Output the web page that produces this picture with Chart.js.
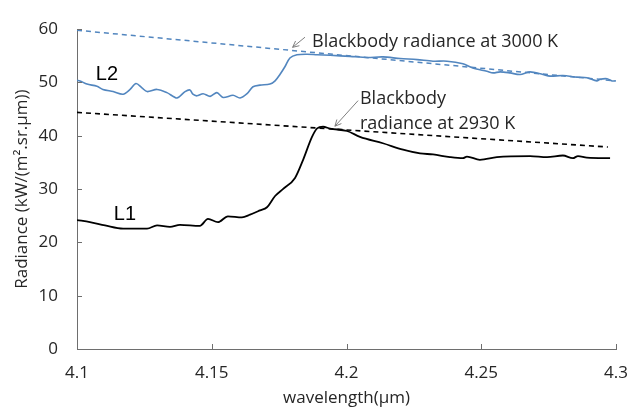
<!DOCTYPE html>
<html>
<head>
<meta charset="utf-8">
<script src="https://cdn.jsdelivr.net/npm/chart.js@4.4.1/dist/chart.umd.min.js"></script>
<style>
  html, body { margin: 0; padding: 0; background: #fff; }
  #wrap { width: 632px; height: 415px; position: relative; }
</style>
</head>
<body>
<div id="wrap"><canvas id="c" width="632" height="415"></canvas></div>
<script>
// ---- data ----
const wavelengthL1 = [4.1000, 4.1048, 4.1104, 4.1171, 4.1260, 4.1297, 4.1345, 4.1382, 4.1456, 4.1486,
  4.1523, 4.1560, 4.1612, 4.1642, 4.1679, 4.1705, 4.1735, 4.1764, 4.1809, 4.1839,
  4.1872, 4.1891, 4.1913, 4.1939, 4.2002, 4.2050, 4.2135, 4.2210, 4.2273, 4.2321,
  4.2384, 4.2432, 4.2447, 4.2495, 4.2558, 4.2681, 4.2744, 4.2803, 4.2840, 4.2859,
  4.2892, 4.2978];
const radianceL1 = [24.2, 23.8, 23.2, 22.6, 22.6, 23.2, 22.9, 23.3, 23.1, 24.4,
  23.8, 24.9, 24.7, 25.2, 26.0, 26.6, 28.7, 30.0, 32.1, 35.5,
  39.8, 41.4, 41.7, 41.35, 40.9, 39.8, 38.6, 37.4, 36.7, 36.5,
  36.0, 35.8, 36.1, 35.5, 36.0, 36.2, 36.0, 36.3, 35.8, 36.2,
  35.9, 35.8];

const wavelengthL2 = [4.1000, 4.1011, 4.1037, 4.1074, 4.1096, 4.1134, 4.1171, 4.1197, 4.1219, 4.1241,
  4.1260, 4.1297, 4.1334, 4.1371, 4.1401, 4.1419, 4.1430, 4.1445, 4.1468, 4.1494,
  4.1519, 4.1542, 4.1579, 4.1605, 4.1631, 4.1653, 4.1679, 4.1716, 4.1735, 4.1753,
  4.1772, 4.1790, 4.1816, 4.1853, 4.1891, 4.1939, 4.2013, 4.2076, 4.2135, 4.2199,
  4.2262, 4.2321, 4.2373, 4.2432, 4.2469, 4.2521, 4.2544, 4.2570, 4.2607, 4.2644,
  4.2681, 4.2729, 4.2755, 4.2803, 4.2855, 4.2892, 4.2929, 4.2941, 4.2967, 4.2985,
  4.2996];
const radianceL2 = [50.4, 50.3, 49.7, 49.3, 48.7, 48.3, 47.8, 48.7, 49.8, 49.0,
  48.3, 48.7, 48.1, 47.1, 48.3, 48.6, 47.8, 47.5, 47.9, 47.4,
  48.1, 47.2, 47.6, 47.1, 47.9, 49.2, 49.5, 49.7, 50.3, 51.5,
  53.0, 54.6, 55.2, 55.3, 55.2, 55.1, 54.9, 54.7, 54.8, 54.5,
  54.3, 54.0, 54.0, 53.5, 52.7, 52.1, 51.8, 52.0, 51.8, 51.5,
  52.0, 51.5, 51.2, 51.3, 51.0, 50.9, 50.3, 50.6, 50.7, 50.3,
  50.3];

const wavelengthBB3000 = [4.1, 4.3];
const radianceBB3000 = [59.8, 50.3];
const wavelengthBB2930 = [4.1, 4.297];
const radianceBB2930 = [44.4, 37.9];

const xTicks = [4.1, 4.15, 4.2, 4.25, 4.3];
const yTicks = [0, 10, 20, 30, 40, 50, 60];

const seriesLabels = ['L1', 'L2'];
const annotationTexts = ['Blackbody radiance at 3000 K', 'Blackbody', 'radiance at 2930 K'];

// ---- build datasets ----
function pts(xs, ys) { return xs.map((x, i) => ({ x: x, y: ys[i] })); }

const BLUE = '#5286bf';
const TXT = '#262626';
const AXIS = '#6e6e6e';

// annotation placement (data coordinates)
const notes = {
  texts: [
    { text: annotationTexts[0], x: 4.1872, y: 56.7 },
    { text: annotationTexts[1], x: 4.2050, y: 46.0 },
    { text: annotationTexts[2], x: 4.2050, y: 41.2 }
  ],
  arrows: [
    { from: { x: 4.1846, y: 58.5 }, to: { x: 4.1800, y: 56.6 } },
    { from: { x: 4.2043, y: 46.6 }, to: { x: 4.1957, y: 41.8 } }
  ],
  labels: [
    { text: seriesLabels[1], x: 4.1111, y: 51.5 },
    { text: seriesLabels[0], x: 4.1178, y: 25.3 }
  ]
};

const overlay = {
  id: 'overlay',
  afterDatasetsDraw(chart) {
    const ctx = chart.ctx;
    const xs = chart.scales.x, ys = chart.scales.y;
    const area = chart.chartArea;
    ctx.save();
    // inside tick marks
    ctx.strokeStyle = AXIS;
    ctx.lineWidth = 1;
    xTicks.forEach(v => {
      const px = Math.round(xs.getPixelForValue(v)) + 0.5;
      ctx.beginPath(); ctx.moveTo(px, area.bottom); ctx.lineTo(px, area.bottom - 5); ctx.stroke();
    });
    yTicks.forEach(v => {
      const py = Math.round(ys.getPixelForValue(v)) + 0.5;
      ctx.beginPath(); ctx.moveTo(area.left, py); ctx.lineTo(area.left + 5, py); ctx.stroke();
    });
    // arrows
    ctx.strokeStyle = '#7f7f7f';
    ctx.lineWidth = 1;
    notes.arrows.forEach(a => {
      const x1 = xs.getPixelForValue(a.from.x), y1 = ys.getPixelForValue(a.from.y);
      const x2 = xs.getPixelForValue(a.to.x), y2 = ys.getPixelForValue(a.to.y);
      ctx.beginPath(); ctx.moveTo(x1, y1); ctx.lineTo(x2, y2); ctx.stroke();
      const ang = Math.atan2(y2 - y1, x2 - x1);
      const L = 7, w = 0.45;
      ctx.beginPath();
      ctx.moveTo(x2 - L * Math.cos(ang - w), y2 - L * Math.sin(ang - w));
      ctx.lineTo(x2, y2);
      ctx.lineTo(x2 - L * Math.cos(ang + w), y2 - L * Math.sin(ang + w));
      ctx.stroke();
    });
    // annotation texts
    ctx.fillStyle = TXT;
    ctx.font = '18px "Open Sans", sans-serif';
    ctx.textAlign = 'left';
    ctx.textBaseline = 'alphabetic';
    notes.texts.forEach(t => {
      ctx.fillText(t.text, xs.getPixelForValue(t.x), ys.getPixelForValue(t.y));
    });
    // series labels
    ctx.font = '20px "Liberation Sans", Arial, sans-serif';
    ctx.textAlign = 'center';
    ctx.textBaseline = 'middle';
    ctx.fillStyle = '#000';
    notes.labels.forEach(t => {
      ctx.fillText(t.text, xs.getPixelForValue(t.x), ys.getPixelForValue(t.y));
    });
    ctx.restore();
  }
};

new Chart(document.getElementById('c'), {
  type: 'line',
  data: {
    datasets: [
      { label: 'Blackbody 3000 K', data: pts(wavelengthBB3000, radianceBB3000), borderColor: BLUE, borderWidth: 1.5, borderDash: [5, 4], pointRadius: 0, fill: false },
      { label: 'Blackbody 2930 K', data: pts(wavelengthBB2930, radianceBB2930), borderColor: '#000', borderWidth: 1.6, borderDash: [5, 4], pointRadius: 0, fill: false },
      { label: seriesLabels[1], data: pts(wavelengthL2, radianceL2), borderColor: BLUE, borderWidth: 1.6, pointRadius: 0, tension: 0.3, fill: false },
      { label: seriesLabels[0], data: pts(wavelengthL1, radianceL1), borderColor: '#000', borderWidth: 1.8, pointRadius: 0, cubicInterpolationMode: 'monotone', fill: false }
    ]
  },
  options: {
    responsive: false,
    animation: false,
    events: [],
    layout: { padding: { top: 24, right: 16, left: 0, bottom: 0 } },
    plugins: { legend: { display: false }, tooltip: { enabled: false } },
    scales: {
      x: {
        type: 'linear',
        min: 4.1, max: 4.3,
        afterBuildTicks: s => { s.ticks = xTicks.map(v => ({ value: v })); },
        afterFit: s => { s.height = 66; s.paddingRight = 0; s.paddingLeft = 0; },
        grid: { display: false, drawTicks: false },
        border: { display: true, color: AXIS, width: 1 },
        ticks: {
          padding: 14,
          color: TXT,
          font: { family: '"Open Sans", sans-serif', size: 17 },
          maxRotation: 0,
          callback: v => String(+(+v).toFixed(2))
        },
        title: {
          display: true,
          text: 'wavelength(μm)',
          color: TXT,
          font: { family: '"Open Sans", sans-serif', size: 17 },
          padding: { top: 0, bottom: 7 }
        }
      },
      y: {
        min: 0, max: 60,
        afterBuildTicks: s => { s.ticks = yTicks.map(v => ({ value: v })); },
        afterFit: s => { s.width = 77; },
        grid: { display: false, drawTicks: false },
        border: { display: true, color: AXIS, width: 1 },
        ticks: {
          padding: 19,
          color: TXT,
          font: { family: '"Open Sans", sans-serif', size: 17 }
        },
        title: {
          display: true,
          text: 'Radiance (kW/(m².sr.μm))',
          color: TXT,
          font: { family: '"Open Sans", sans-serif', size: 17 },
          padding: { top: 12, bottom: 0 }
        }
      }
    }
  },
  plugins: [overlay]
});
</script>
</body>
</html>
